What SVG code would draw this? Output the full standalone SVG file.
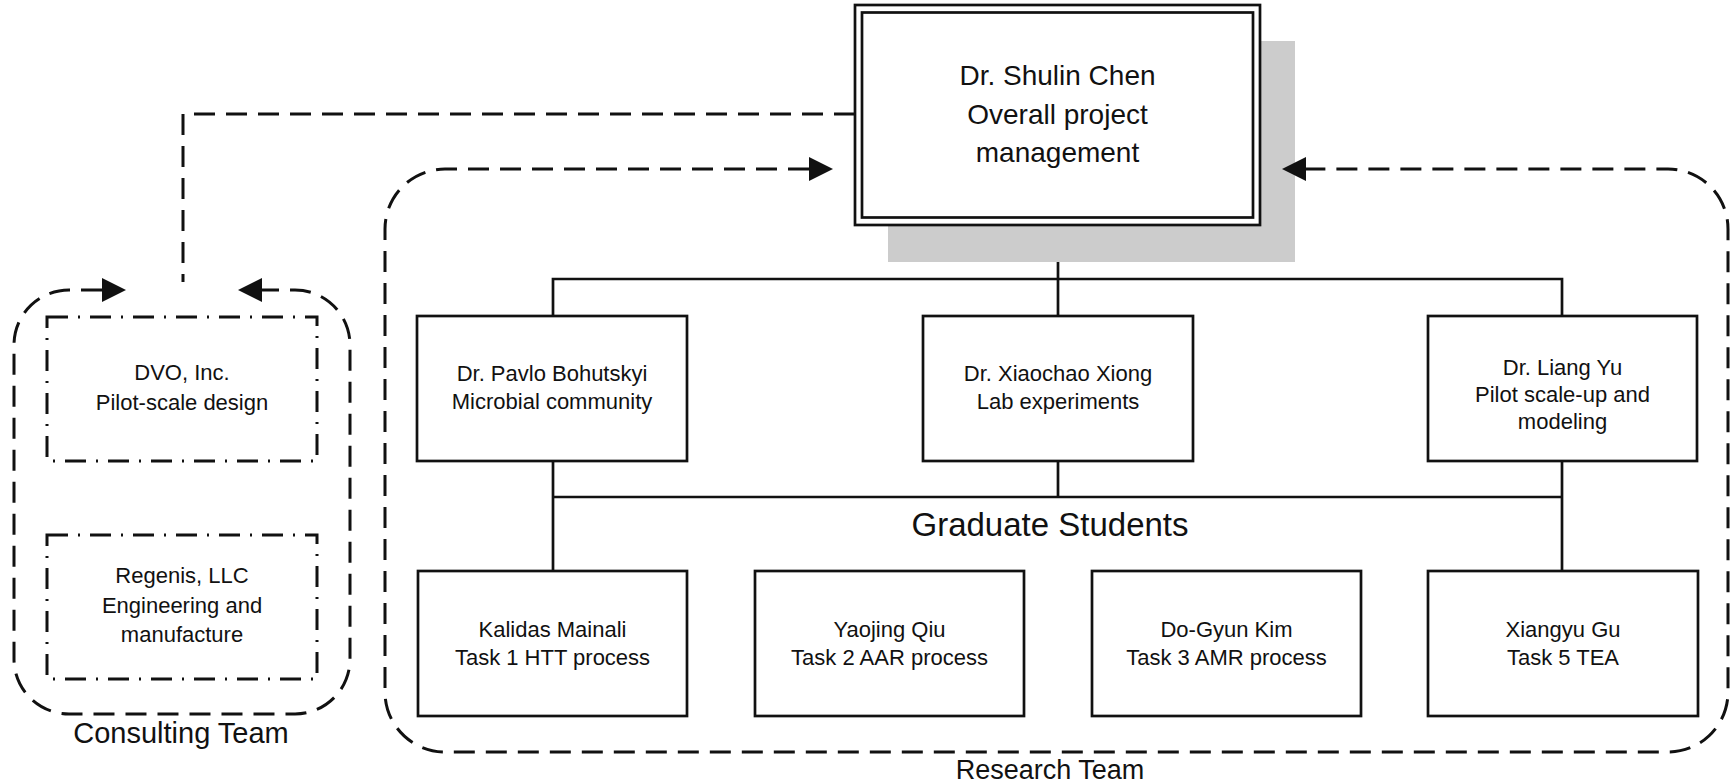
<svg xmlns="http://www.w3.org/2000/svg" width="1736" height="784" viewBox="0 0 1736 784">
<style>
text{font-family:"Liberation Sans",Arial,sans-serif;fill:#111;text-anchor:middle}
.t22{font-size:22px}
.t28{font-size:28px}
.box{fill:#fff;stroke:#111;stroke-width:2.7}
.solid{fill:none;stroke:#111;stroke-width:2.7}
.dash{fill:none;stroke:#111;stroke-width:3;stroke-dasharray:21 11}
.dashdot{fill:none;stroke:#111;stroke-width:3;stroke-dasharray:21 10 2 10}
</style>
<defs>
<marker id="ah" markerUnits="userSpaceOnUse" markerWidth="26" markerHeight="26" refX="0" refY="12" orient="auto-start-reverse" viewBox="0 0 26 24">
<path d="M0,0 L24,12 L0,24 z" fill="#111"/>
</marker>
</defs>
<rect width="1736" height="784" fill="#fff"/>

<g id="connectors">
<path class="dash" d="M855,114 H183 V282"/>
<path class="solid" d="M1058,225 V316 M553,316 V279 H1562 V316"/>
<path class="solid" d="M553,461 V571 M1058,461 V497 M1562,461 V571 M553,497 H1562"/>
</g>

<g id="chen">
<rect x="888" y="41" width="407" height="221" fill="#cccccc"/>
<rect x="855" y="5" width="405" height="220" class="box"/>
<rect x="862" y="12.5" width="391" height="205" class="box"/>
<text class="t28" x="1057.5" y="85">Dr. Shulin Chen</text>
<text class="t28" x="1057.5" y="123.5">Overall project</text>
<text class="t28" x="1057.5" y="162">management</text>
</g>

<g id="research-team">
<path class="dash" d="M809,169 H445 A60,60 0 0 0 385,229 V692 A60,60 0 0 0 445,752 H1668 A60,60 0 0 0 1728,692 V229 A60,60 0 0 0 1668,169 H1306" marker-start="url(#ah)" marker-end="url(#ah)"/>
<text x="1050" y="779" style="font-size:27px">Research Team</text>
</g>

<g id="consulting-team">
<path class="dash" d="M102,290 H69 A55,55 0 0 0 14,345 V659 A55,55 0 0 0 69,714 H295 A55,55 0 0 0 350,659 V345 A55,55 0 0 0 295,290 H262" marker-start="url(#ah)" marker-end="url(#ah)"/>
<text x="181" y="743" style="font-size:29px">Consulting Team</text>
</g>

<g id="pavlo">
<rect x="417" y="316" width="270" height="145" class="box"/>
<text class="t22" x="552" y="381">Dr. Pavlo Bohutskyi</text>
<text class="t22" x="552" y="409">Microbial community</text>
</g>

<g id="xiong">
<rect x="923" y="316" width="270" height="145" class="box"/>
<text class="t22" x="1058" y="381">Dr. Xiaochao Xiong</text>
<text class="t22" x="1058" y="409">Lab experiments</text>
</g>

<g id="yu">
<rect x="1428" y="316" width="269" height="145" class="box"/>
<text class="t22" x="1562.5" y="375">Dr. Liang Yu</text>
<text class="t22" x="1562.5" y="402">Pilot scale-up and</text>
<text class="t22" x="1562.5" y="429">modeling</text>
</g>

<g id="graduate-students">
<text x="1050" y="536" style="font-size:33px">Graduate Students</text>
</g>

<g id="kalidas">
<rect x="418" y="571" width="269" height="145" class="box"/>
<text class="t22" x="552.5" y="637">Kalidas Mainali</text>
<text class="t22" x="552.5" y="665">Task 1 HTT process</text>
</g>

<g id="yaojing">
<rect x="755" y="571" width="269" height="145" class="box"/>
<text class="t22" x="889.5" y="637">Yaojing Qiu</text>
<text class="t22" x="889.5" y="665">Task 2 AAR process</text>
</g>

<g id="dogyun">
<rect x="1092" y="571" width="269" height="145" class="box"/>
<text class="t22" x="1226.5" y="637">Do-Gyun Kim</text>
<text class="t22" x="1226.5" y="665">Task 3 AMR process</text>
</g>

<g id="xiangyu">
<rect x="1428" y="571" width="270" height="145" class="box"/>
<text class="t22" x="1563" y="637">Xiangyu Gu</text>
<text class="t22" x="1563" y="665">Task 5 TEA</text>
</g>

<g id="dvo">
<rect x="47" y="317" width="270" height="144" class="dashdot"/>
<text class="t22" x="182" y="380">DVO, Inc.</text>
<text class="t22" x="182" y="410">Pilot-scale design</text>
</g>

<g id="regenis">
<rect x="47" y="535" width="270" height="144" class="dashdot"/>
<text class="t22" x="182" y="583">Regenis, LLC</text>
<text class="t22" x="182" y="613">Engineering and</text>
<text class="t22" x="182" y="642">manufacture</text>
</g>
</svg>
